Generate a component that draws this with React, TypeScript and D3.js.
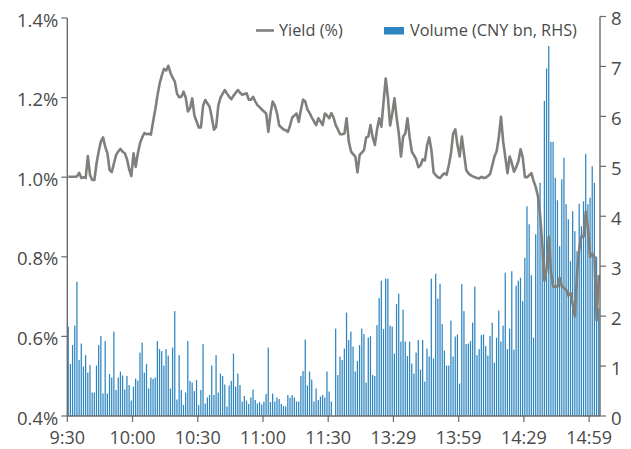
import React from "react";
import * as d3 from "d3";

const volume: number[] = [
  1.79, 1.04, 1.42, 1.81, 2.69, 1.12, 1.45, 0.99, 1.22, 0.87,
  1.02, 0.47, 0.47, 1.01, 1.42, 1.6, 0.45, 1.5, 0.45, 0.84,
  0.77, 1.69, 0.52, 0.77, 0.89, 0.81, 0.53, 0.8, 0.62, 0.31,
  0.59, 0.75, 0.71, 1.27, 1.47, 0.87, 1.04, 0.55, 0.77, 0.74,
  0.77, 1.5, 1.34, 1.3, 1.01, 1.34, 1.21, 0.55, 1.37, 2.1,
  0.33, 1.22, 0.52, 0.22, 0.47, 1.5, 0.7, 0.67, 0.5, 0.72,
  0.22, 0.52, 1.44, 0.25, 0.37, 0.42, 1.01, 0.42, 1.22, 0.47,
  0.85, 0.8, 0.63, 0.19, 0.61, 0.7, 1.25, 0.59, 0.85, 0.62,
  0.29, 0.4, 0.31, 0.24, 0.37, 0.53, 0.32, 0.25, 0.28, 0.23,
  0.29, 0.44, 1.37, 0.28, 0.45, 0.29, 0.37, 0.34, 0.24, 0.2,
  0.19, 0.42, 0.37, 0.42, 0.37, 0.29, 0.29, 0.8, 0.9, 1.53,
  0.61, 0.89, 0.73, 0.29, 0.55, 0.32, 0.39, 0.42, 0.37, 0.89,
  0.49, 0.29, 0, 1.75, 0.82, 1.19, 1.12, 1.35, 2.07, 1.52,
  1.69, 1.39, 0.89, 1.1, 1.42, 1.75, 1.64, 0.67, 1.57, 1.6,
  0.82, 0.8, 1.82, 2.36, 2.71, 1.74, 2.75, 2.75, 1.81, 1.79,
  1.25, 2.24, 2.45, 1.49, 2.13, 1.49, 1.2, 1.49, 1.05, 0.85,
  1.27, 1.52, 0.93, 1.52, 0.69, 1.35, 1.19, 2.75, 1.15, 2.85,
  2.35, 2.65, 1.84, 1.31, 1.01, 1.01, 1.91, 1.19, 1.59, 1.63,
  0.65, 2.64, 2.1, 1.44, 1.45, 1.5, 1.87, 2.59, 1.22, 1.34,
  1.62, 1.63, 1.4, 1.21, 1.6, 1.87, 1.07, 1.57, 2.11, 1.49,
  1.81, 2.87, 1.34, 1.75, 2.9, 1.33, 2.61, 2.71, 2.77, 2.3,
  3.17, 4.2, 3.84, 2.82, 1.57, 3.64, 4.39, 4.67, 3.3, 6.31,
  6.96, 7.41, 5.49, 5.49, 4.77, 4.32, 3.4, 4.74, 5.17, 4.24,
  3.94, 3.1, 4.1, 3.7, 3.3, 4.25, 3.8, 4.3, 5.25, 4.24,
  4.37, 5.0, 4.67, 3.19, 2.16,
];

const yieldPct: number[] = [
  1.001, 1.001, 1.001, 1.001, 1.002, 1.011, 0.998, 1.0, 0.998, 1.053,
  1.005, 0.993, 0.993, 1.035, 1.065, 1.09, 1.1, 1.076, 1.06, 1.018,
  1.013, 1.035, 1.056, 1.065, 1.071, 1.064, 1.06, 1.045, 1.02, 1.003,
  1.06, 1.026, 1.06, 1.086, 1.1, 1.111, 1.108, 1.109, 1.107, 1.14,
  1.17, 1.205, 1.235, 1.255, 1.272, 1.268, 1.28, 1.262, 1.25, 1.24,
  1.21, 1.201, 1.202, 1.215, 1.2, 1.165, 1.173, 1.198, 1.155, 1.14,
  1.125, 1.125, 1.18, 1.194, 1.185, 1.177, 1.15, 1.119, 1.127, 1.18,
  1.2, 1.21, 1.219, 1.21, 1.202, 1.196, 1.205, 1.212, 1.219, 1.212,
  1.207, 1.209, 1.211, 1.195, 1.195, 1.202, 1.19, 1.181, 1.176, 1.17,
  1.165, 1.16, 1.114, 1.16, 1.19, 1.18, 1.16, 1.13, 1.125, 1.12,
  1.118, 1.114, 1.13, 1.15, 1.155, 1.16, 1.139, 1.17, 1.195, 1.19,
  1.17, 1.161, 1.15, 1.14, 1.131, 1.148, 1.14, 1.131, 1.16, 1.155,
  1.148, 1.161, 1.15, 1.131, 1.12, 1.108, 1.108, 1.11, 1.148, 1.09,
  1.065, 1.058, 1.052, 1.012, 1.056, 1.062, 1.068, 1.1, 1.102, 1.131,
  1.1, 1.081, 1.12, 1.148, 1.127, 1.19, 1.248, 1.2, 1.13, 1.16,
  1.198, 1.15, 1.11, 1.052, 1.102, 1.11, 1.148, 1.1, 1.064, 1.055,
  1.045, 1.025, 1.03, 1.045, 1.042, 1.08, 1.1, 1.068, 1.012, 1.005,
  1.0, 0.998, 1.005, 1.01, 1.006, 1.03, 1.06, 1.11, 1.12, 1.08,
  1.052, 1.102, 1.06, 1.018, 1.01, 1.005, 1.002, 1.0, 0.998, 0.997,
  1.001, 0.998, 0.999, 1.003, 1.008, 1.03, 1.052, 1.065, 1.1, 1.152,
  1.09, 1.05, 1.01, 1.052, 1.035, 1.014, 1.025, 1.04, 1.07, 1.05,
  1.0, 1.0, 1.005, 1.01, 0.99, 0.975, 0.952, 0.905, 0.83, 0.74,
  0.77, 0.851, 0.76, 0.725, 0.725, 0.725, 0.747, 0.725, 0.722, 0.717,
  0.703, 0.709, 0.68, 0.65, 0.76, 0.82, 0.851, 0.851, 0.913, 0.87,
  0.8, 0.808, 0.8, 0.64, 0.754,
];

const xTickIndex: number[] = [0, 30, 60, 90, 120, 150, 180, 210, 240];
const xTickLabels: string[] = ["9:30", "10:00", "10:30", "11:00", "11:30", "13:29", "13:59", "14:29", "14:59"];
const leftTicks: number[] = [0.4, 0.6, 0.8, 1.0, 1.2, 1.4];
const rightTicks: number[] = [0, 1, 2, 3, 4, 5, 6, 7, 8];

const FONT = "'Open Sans', 'Noto Sans', sans-serif";
const AXIS = "#6b6b6b";
const TEXT = "#4a4a4a";
const BAR = "#2e86c1";
const LINE = "#7f7f7c";

export default function App() {
  const W = 631;
  const H = 449;
  const left = 67.3;
  const right = 600;
  const bottom = 416;

  const x = d3.scaleLinear().domain([0, 245]).range([left, right]);
  const yL = d3.scaleLinear().domain([0.4, 1.4]).range([bottom, 18]);
  const yR = d3.scaleLinear().domain([0, 8]).range([bottom, 16.5]);

  const line = d3
    .line<number>()
    .x((_, i) => x(i) + 1.0)
    .y((d) => yL(d));

  return (
    <svg
      width={W}
      height={H}
      style={{ position: "absolute", left: 0, top: 0, display: "block", background: "#fff" }}
    >
      <g>
        {volume.map((v, i) => (
          <rect
            key={i}
            x={x(i) + 0.3}
            y={yR(v)}
            width={1.25}
            height={bottom - yR(v)}
            fill={BAR}
          />
        ))}
      </g>
      <path d={line(yieldPct) || ""} fill="none" stroke={LINE} strokeWidth={2.6} strokeLinejoin="round" />

      <line x1={left} x2={left} y1={yL(1.4)} y2={bottom} stroke={AXIS} strokeWidth={1.4} />
      {leftTicks.map((t) => (
        <g key={t}>
          <line x1={left - 6} x2={left} y1={yL(t)} y2={yL(t)} stroke={AXIS} strokeWidth={1.2} />
          <text
            x={left - 9}
            y={yL(t)}
            dy="0.47em"
            textAnchor="end"
            fontFamily={FONT}
            fontSize={18.5}
            fill={TEXT}
          >
            {t.toFixed(1) + "%"}
          </text>
        </g>
      ))}

      <line x1={right} x2={right} y1={yR(8)} y2={bottom} stroke={AXIS} strokeWidth={1.4} />
      {rightTicks.map((t) => (
        <g key={t}>
          <line x1={right} x2={right + 6} y1={yR(t)} y2={yR(t)} stroke={AXIS} strokeWidth={1.2} />
          <text
            x={right + 11}
            y={yR(t)}
            dy="0.47em"
            textAnchor="start"
            fontFamily={FONT}
            fontSize={18.5}
            fill={TEXT}
          >
            {t}
          </text>
        </g>
      ))}

      <line x1={left} x2={right} y1={bottom} y2={bottom} stroke={AXIS} strokeWidth={1.4} />
      {xTickIndex.map((ti, k) => (
        <g key={ti}>
          <line x1={x(ti)} x2={x(ti)} y1={bottom} y2={bottom + 6} stroke={AXIS} strokeWidth={1.2} />
          <text
            x={x(ti)}
            y={444}
            textAnchor="middle"
            fontFamily={FONT}
            fontSize={18}
            fill={TEXT}
          >
            {xTickLabels[k]}
          </text>
        </g>
      ))}

      <line x1={256} x2={274} y1={30.5} y2={30.5} stroke={LINE} strokeWidth={2.6} />
      <text x={279} y={36} fontFamily={FONT} fontSize={16.3} fill={TEXT}>
        Yield (%)
      </text>
      <rect x={384} y={27} width={20} height={7.5} fill={BAR} />
      <text x={410} y={36} fontFamily={FONT} fontSize={16.3} fill={TEXT}>
        Volume (CNY bn, RHS)
      </text>
    </svg>
  );
}
